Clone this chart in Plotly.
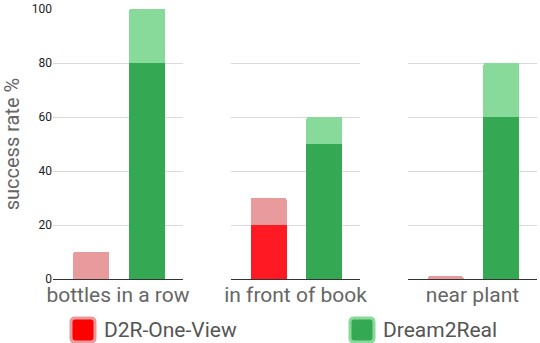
import re
import plotly.graph_objects as go

categories = ["bottles in a row", "in front of book", "near plant"]
methods = ["D2R-One-View", "Dream2Real"]
# success rate % : solid part and light part stacked on top
d2r_solid = [0, 20, 0]
d2r_light = [10, 10, 1]
dr_solid = [80, 50, 60]
dr_light = [20, 10, 20]
y_ticks = [0, 20, 40, 60, 80, 100]

solid_colors = ["#FF1A23", "#35A853"]
light_colors = ["#E99A9C", "#87DA9A"]
legend_fill = ["#FF0000", "#35A853"]

FONT = "Roboto"
fig = go.Figure()

domains = [[0, 0.2686], [0.3678, 0.6343], [0.7335, 1.0]]

for i, cat in enumerate(categories):
    xa = "x" if i == 0 else f"x{i+1}"
    solid = [d2r_solid[i], dr_solid[i]]
    light = [d2r_light[i], dr_light[i]]
    fig.add_trace(go.Bar(x=methods, y=solid, xaxis=xa, yaxis="y",
                         marker=dict(color=solid_colors, line=dict(width=0)),
                         width=0.643, showlegend=False, hoverinfo="skip"))
    fig.add_trace(go.Bar(x=methods, y=light, xaxis=xa, yaxis="y",
                         marker=dict(color=light_colors, line=dict(width=0)),
                         width=0.643, showlegend=False, hoverinfo="skip"))
    key = "xaxis" if i == 0 else f"xaxis{i+1}"
    fig.layout[key] = dict(
        domain=domains[i], anchor="y", type="category",
        categoryorder="array", categoryarray=methods,
        range=[-0.679, 1.643], showticklabels=False, ticks="",
        showgrid=False, zeroline=False,
        showline=True, linecolor="#333333", linewidth=1,
        title=dict(text=cat, font=dict(family=FONT, size=21, color="#666666"), standoff=8),
    )

fig.update_layout(
    width=540, height=343,
    margin=dict(l=53, r=3, t=9, b=64),
    barmode="stack",
    barcornerradius=2,
    plot_bgcolor="white", paper_bgcolor="white",
    yaxis=dict(range=[0, 100], tickvals=y_ticks, showgrid=True, gridcolor="#DADADA",
               gridwidth=1, zeroline=False, showline=False, ticks="",
               tickfont=dict(family=FONT, size=12, color="#222222"),
               title=dict(text="success rate %", font=dict(family=FONT, size=20, color="#666666"),
                          standoff=8)),
    showlegend=False,
)

# break the gridlines between panels
for a, b in [(0.2686, 0.3678), (0.6343, 0.7335)]:
    fig.add_shape(type="rect", xref="paper", yref="paper", x0=a, x1=b, y0=-0.001, y1=1.01,
                  fillcolor="white", line=dict(width=0), layer="between")

W = 540 - 53 - 3
H = 343 - 9 - 64


def fx(p):
    return (p - 53) / W


def fy(p):
    return (343 - 64 - p) / H


def rounded(x0, y0, s, r):
    return (f"M {x0+r},{y0} L {x0+s-r},{y0} Q {x0+s},{y0} {x0+s},{y0+r} "
            f"L {x0+s},{y0+s-r} Q {x0+s},{y0+s} {x0+s-r},{y0+s} "
            f"L {x0+r},{y0+s} Q {x0},{y0+s} {x0},{y0+s-r} "
            f"L {x0},{y0+r} Q {x0},{y0} {x0+r},{y0} Z")


def conv(match):
    return f"{fx(float(match.group(1))):.5f},{fy(float(match.group(2))):.5f}"


legend_x = [71, 350]
for j, m in enumerate(methods):
    px0 = legend_x[j]
    py_top = 318
    size = 24
    ppath = re.sub(r"([-\d.]+),([-\d.]+)", conv, rounded(px0, py_top, size, 4))
    fig.add_shape(type="path", xref="paper", yref="paper", path=ppath,
                  fillcolor=legend_fill[j], line=dict(color=light_colors[j], width=3))
    fig.add_annotation(xref="paper", yref="paper", x=fx(px0 + size + 7), y=fy(py_top + size / 2),
                       text=m, showarrow=False, xanchor="left", yanchor="middle",
                       font=dict(family=FONT, size=21, color="#555555"))

fig.write_html("out.html", config={"displayModeBar": False},
               post_script="document.body.style.margin='0px';")
